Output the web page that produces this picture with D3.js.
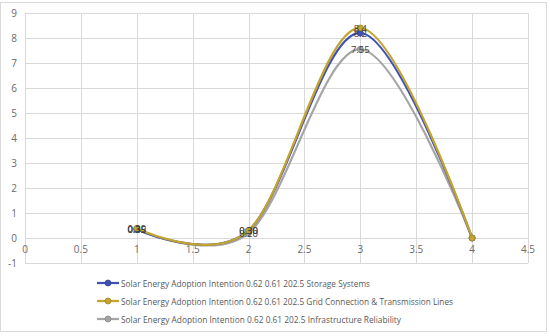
<!DOCTYPE html>
<html>
<head>
<meta charset="utf-8">
<script src="https://cdn.jsdelivr.net/npm/d3@7"></script>
<style>
  body { margin: 0; background: #fff; }
  svg { display: block; font-family: "Open Sans", "Liberation Sans", sans-serif; }
</style>
</head>
<body>
<svg width="550" height="336"></svg>
<script>
var xs = [1, 2, 3, 4];
var storage = [0.35, 0.3, 8.2, 0];
var grid = [0.39, 0.3, 8.4, 0];
var infra = [0.35, 0.2, 7.55, 0];
var seriesNames = [
    "Solar Energy Adoption Intention 0.62 0.61 202.5 Storage Systems",
    "Solar Energy Adoption Intention 0.62 0.61 202.5 Grid Connection & Transmission Lines",
    "Solar Energy Adoption Intention 0.62 0.61 202.5 Infrastructure Reliability"
];
var xTicks = [0, 0.5, 1, 1.5, 2, 2.5, 3, 3.5, 4, 4.5];
var yTicks = [-1, 0, 1, 2, 3, 4, 5, 6, 7, 8, 9];

var colors = ["#4150b5", "#c2a52e", "#a5a5a5"];
var legendWidths = [249, 332, 280];

var svg = d3.select("svg");

// outer chart border
svg.append("rect")
    .attr("x", 0.5).attr("y", 2.5)
    .attr("width", 546).attr("height", 329)
    .attr("fill", "none").attr("stroke", "#d9d9d9");

var x = d3.scaleLinear().domain([0, 4.5]).range([25, 528]);
var y = d3.scaleLinear().domain([-1, 9]).range([263, 13]);

// gridlines
svg.append("g").selectAll("line").data(yTicks).enter().append("line")
    .attr("x1", x(0)).attr("x2", x(4.5))
    .attr("y1", function(d) { return y(d) + 0.5; })
    .attr("y2", function(d) { return y(d) + 0.5; })
    .attr("stroke", "#d9d9d9");
svg.append("g").selectAll("line").data(xTicks).enter().append("line")
    .attr("x1", function(d) { return Math.round(x(d)) + 0.5; })
    .attr("x2", function(d) { return Math.round(x(d)) + 0.5; })
    .attr("y1", y(9)).attr("y2", y(-1))
    .attr("stroke", "#d9d9d9");

// tick labels
svg.append("g").selectAll("text").data(yTicks).enter().append("text")
    .attr("x", 17).attr("y", function(d) { return y(d) + 3.5; })
    .attr("text-anchor", "end")
    .attr("font-size", 10).attr("fill", "#6b6b6b")
    .text(function(d) { return d; });
svg.append("g").selectAll("text").data(xTicks).enter().append("text")
    .attr("x", function(d) { return x(d); }).attr("y", y(0) + 15)
    .attr("text-anchor", "middle")
    .attr("font-size", 10).attr("fill", "#6b6b6b")
    .text(function(d) { return d; });

var allSeries = [storage, grid, infra];
var line = d3.line()
    .x(function(d) { return x(d[0]); })
    .y(function(d) { return y(d[1]); })
    .curve(d3.curveCardinal.tension(0));

function fmt(v) {
    return v < 1 ? d3.format(".2f")(v) : String(v);
}

// draw gray first, then blue, then gold on top
[2, 0, 1].forEach(function(i) {
    var pts = xs.map(function(v, j) { return [v, allSeries[i][j]]; });
    var g = svg.append("g");
    g.append("path")
        .attr("d", line(pts))
        .attr("fill", "none")
        .attr("stroke", colors[i])
        .attr("stroke-width", 2.25);
    g.selectAll("circle").data(pts).enter().append("circle")
        .attr("cx", function(d) { return x(d[0]); })
        .attr("cy", function(d) { return y(d[1]); })
        .attr("r", 3)
        .attr("fill", colors[i])
        .attr("stroke", d3.color(colors[i]).darker(0.6))
        .attr("stroke-width", 0.75);
});

// data labels (centered on points, overlapping as in the original)
[2, 0, 1].forEach(function(i) {
    var pts = xs.map(function(v, j) { return [v, allSeries[i][j]]; }).filter(function(d) { return d[0] < 4; });
    svg.append("g").selectAll("text").data(pts).enter().append("text")
        .attr("x", function(d) { return x(d[0]); })
        .attr("y", function(d) { return y(d[1]) + 3.5; })
        .attr("text-anchor", "middle")
        .attr("font-size", 9.5).attr("fill", "#404040")
        .text(function(d) { return fmt(d[1]); });
});

// legend
var legend = svg.append("g");
seriesNames.forEach(function(name, i) {
    var ly = 283 + i * 18;
    legend.append("line")
        .attr("x1", 97).attr("x2", 119).attr("y1", ly).attr("y2", ly)
        .attr("stroke", colors[i]).attr("stroke-width", 2.25);
    legend.append("circle")
        .attr("cx", 108).attr("cy", ly).attr("r", 3)
        .attr("fill", colors[i])
        .attr("stroke", d3.color(colors[i]).darker(0.6)).attr("stroke-width", 0.75);
    legend.append("text")
        .attr("x", 121).attr("y", ly + 3.5)
        .attr("font-size", 9.5).attr("fill", "#595959")
        .attr("textLength", legendWidths[i])
        .attr("lengthAdjust", "spacingAndGlyphs")
        .text(name);
});
</script>
</body>
</html>
